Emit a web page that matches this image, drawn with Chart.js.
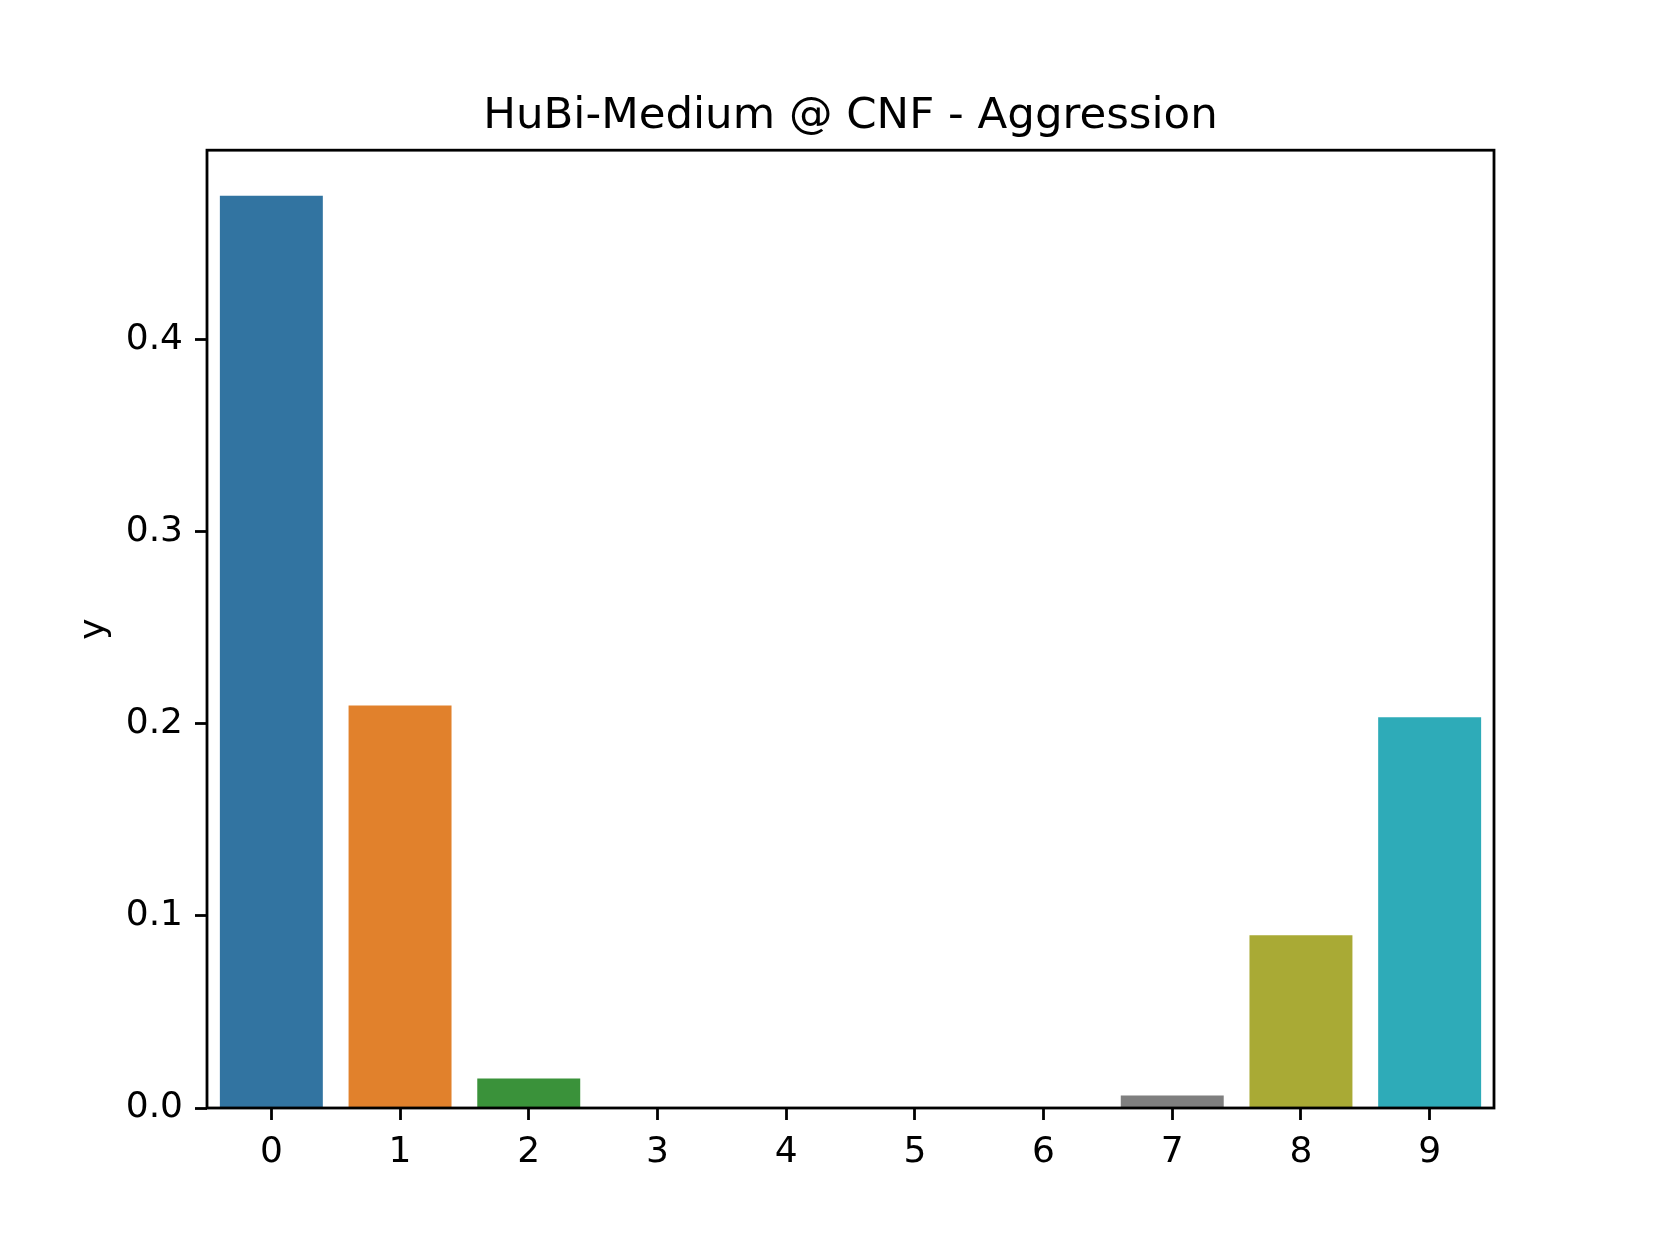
<!DOCTYPE html>
<html>
<head>
<meta charset="utf-8">
<title>HuBi-Medium @ CNF - Aggression</title>
<script src="https://cdn.jsdelivr.net/npm/chart.js@4/dist/chart.umd.min.js"></script>
<style>
  html, body { margin: 0; padding: 0; background: #fff; }
  canvas { display: block; }
</style>
</head>
<body>
<canvas id="c" width="1660" height="1245"></canvas>
<script>
// values
var CATS = ['0', '1', '2', '3', '4', '5', '6', '7', '8', '9'];
var VALS = [0.4749, 0.2095, 0.0153, 0, 0, 0, 0, 0.0065, 0.0899, 0.2034];
var COLS = ['#3274a1', '#e1812c', '#3a923a', '#c03d3e', '#9372b2', '#845b53', '#d684bd', '#7f7f7f', '#a9aa35', '#2eabb8'];
var Y_TICKS = [0, 0.1, 0.2, 0.3, 0.4];
var Y_MAX = 0.4986;
var TITLE = 'HuBi-Medium @ CNF - Aggression';

var FONT = 'DejaVu Sans';
var LW = 2.8;

// matplotlib-style full box round the axes
var frame = {
  id: 'frame',
  afterDatasetsDraw: function (ch) {
    var a = ch.chartArea, g = ch.ctx;
    g.save(); g.lineWidth = LW; g.strokeStyle = '#000';
    g.strokeRect(a.left, a.top, a.right - a.left, a.bottom - a.top);
    g.restore();
  }
};

new Chart(document.getElementById('c'), {
  type: 'bar',
  data: { labels: CATS, datasets: [{ data: VALS, backgroundColor: COLS, borderWidth: 0, barPercentage: 0.8, categoryPercentage: 1.0 }] },
  options: {
    responsive: false, animation: false,
    layout: { padding: { left: 0, right: 166, top: 0, bottom: 0 } },
    plugins: {
      legend: { display: false }, tooltip: { enabled: false },
      title: { display: true, text: TITLE, fullSize: false, color: '#000',
        font: { family: FONT, size: 43.5, weight: 'normal' }, padding: { top: 91, bottom: 7 } }
    },
    scales: {
      x: {
        offset: true,
        afterFit: function (s) { s.height = 137; },
        border: { display: false },
        grid: { display: true, offset: false, drawOnChartArea: false, drawTicks: true, tickLength: 12, tickWidth: LW, tickColor: '#000' },
        ticks: { color: '#000', padding: 11, maxRotation: 0, font: { family: FONT, size: 36 } }
      },
      y: {
        min: 0, max: Y_MAX,
        afterFit: function (s) { s.width = 207; },
        afterBuildTicks: function (s) { s.ticks = Y_TICKS.map(function (v) { return { value: v }; }); },
        border: { display: false },
        grid: { display: true, drawOnChartArea: false, drawTicks: true, tickLength: 12, tickWidth: LW, tickColor: '#000' },
        ticks: { color: '#000', padding: 12, font: { family: FONT, size: 36 }, callback: function (v) { return (+v).toFixed(1); } },
        title: { display: true, text: 'y', color: '#000', font: { family: FONT, size: 36 }, padding: { top: 73, bottom: 0 } }
      }
    }
  },
  plugins: [frame]
});
</script>
</body>
</html>
